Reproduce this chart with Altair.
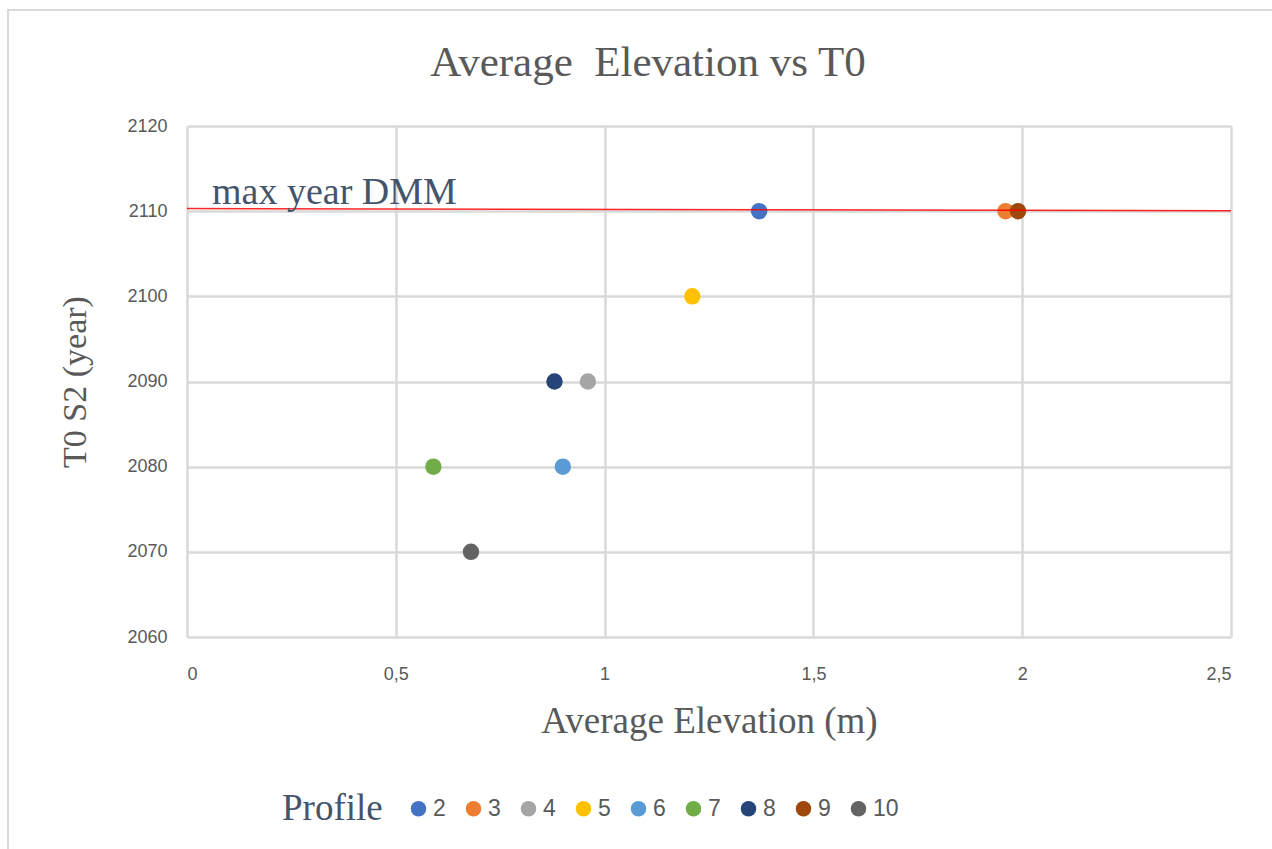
import altair as alt
import pandas as pd

profiles = ["2", "3", "4", "5", "6", "7", "8", "9", "10"]
avg_elev = [1.37, 1.96, 0.96, 1.21, 0.90, 0.59, 0.88, 1.99, 0.68]
t0_year = [2110, 2110, 2090, 2100, 2080, 2080, 2090, 2110, 2070]
colors = ["#4472C4", "#ED7D31", "#A5A5A5", "#FFC000", "#5B9BD5",
          "#70AD47", "#264478", "#9E480E", "#636363"]

line_x = [0.0, 2.5]
line_y = [2110.3, 2110.05]
label_text = ["max year DMM"]
label_x = [0.06]
label_y = [2110.8]
title_text = ["Average\u00a0\u00a0Elevation vs T0"]

pts = pd.DataFrame({"Profile": profiles, "x": avg_elev, "y": t0_year})
ln = pd.DataFrame({"x": line_x, "y": line_y})
lab = pd.DataFrame({"t": label_text, "x": label_x, "y": label_y})
ttl = pd.DataFrame({"t": title_text})

W, H = 1044, 511
PL, PT = 187, 126

xscale = alt.Scale(domain=[0, 2.5], nice=False, zero=False)
yscale = alt.Scale(domain=[2060, 2120], nice=False, zero=False)

frame = alt.Chart(pd.DataFrame({"a": [0]})).mark_rect(
    fill=None, stroke="#D9D9D9", strokeWidth=2, clip=False
).encode(
    x=alt.value(8 - PL), x2=alt.value(1272 - PL + 10),
    y=alt.value(10 - PT), y2=alt.value(849 - PT + 10),
)

title = alt.Chart(ttl).mark_text(
    align="center", baseline="alphabetic", font="Liberation Serif", fontSize=43,
    color="#595959", clip=False
).encode(x=alt.value(648 - PL), y=alt.value(76 - PT), text="t:N")

points = alt.Chart(pts).mark_circle(size=270, opacity=1).encode(
    x=alt.X("x:Q", scale=xscale,
            axis=alt.Axis(title="Average Elevation (m)", values=[0, 0.5, 1, 1.5, 2, 2.5],
                          labelExpr="replace(toString(datum.value), '.', ',')")),
    y=alt.Y("y:Q", scale=yscale,
            axis=alt.Axis(title="T0 S2 (year)", values=[2060, 2070, 2080, 2090, 2100, 2110, 2120],
                          format="d")),
    color=alt.Color("Profile:N", sort=profiles,
                    scale=alt.Scale(domain=profiles, range=colors),
                    legend=alt.Legend(title="Profile", orient="none", direction="horizontal",
                                      legendX=282 - PL, legendY=797 - PT,
                                      titleOrient="left", columns=9)),
)

line = alt.Chart(ln).mark_line(color="#FF0000", strokeWidth=1.5, opacity=0.85).encode(
    x=alt.X("x:Q", scale=xscale), y=alt.Y("y:Q", scale=yscale)
)

text = alt.Chart(lab).mark_text(
    align="left", baseline="alphabetic", font="Liberation Serif", fontSize=38, color="#44546A"
).encode(x=alt.X("x:Q", scale=xscale), y=alt.Y("y:Q", scale=yscale), text="t:N")

chart = alt.layer(frame, title, points, line, text).properties(
    width=W, height=H,
    autosize=alt.AutoSizeParams(type="none"),
    padding={"left": PL, "top": PT, "right": 1272 - PL - W, "bottom": 849 - PT - H},
    background="white",
).configure_view(stroke=None).configure_axis(
    grid=True, gridColor="#D9D9D9", gridWidth=2.5, domain=False, ticks=False,
    labelFont="Liberation Sans", labelFontSize=18, labelColor="#595959",
    titleFont="Liberation Serif", titleFontWeight="normal",
    titleColor="#595959",
).configure_axisX(labelPadding=28, titlePadding=20, titleFontSize=37).configure_axisY(
    labelPadding=20, titlePadding=34, titleFontSize=34
).configure_legend(
    titleFont="Liberation Serif", titleFontSize=37, titleFontWeight="normal",
    titleColor="#44546A", labelFont="Liberation Sans", labelFontSize=23,
    labelColor="#595959", symbolType="circle", symbolSize=240, symbolStrokeWidth=0,
    columnPadding=16, labelOffset=3, titlePadding=24,
)

chart.save("out.html", embed_options={"renderer": "svg", "actions": False})
